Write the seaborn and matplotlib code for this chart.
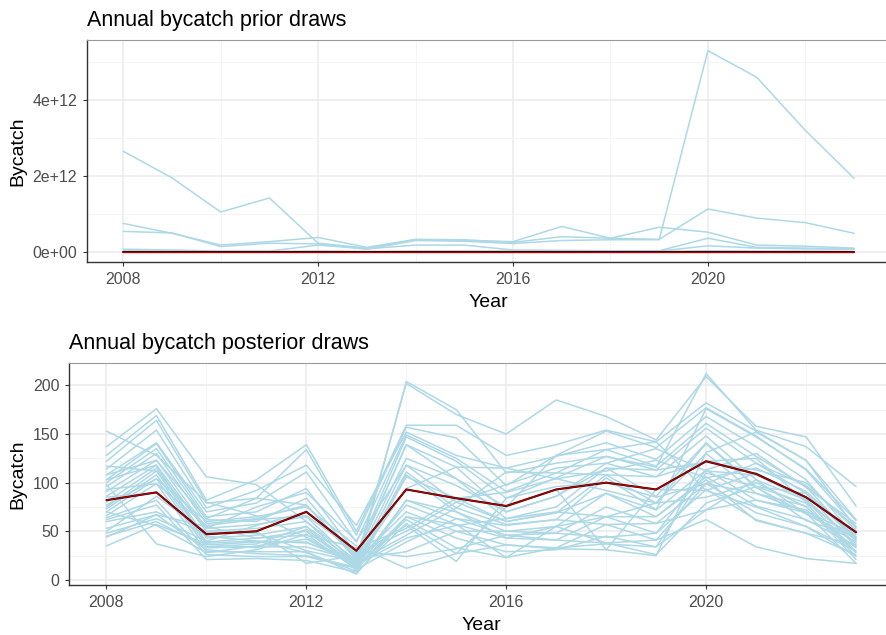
import numpy as np
import pandas as pd
import matplotlib
matplotlib.use("Agg")
import matplotlib.pyplot as plt
import seaborn as sns
from matplotlib.ticker import FixedLocator, FuncFormatter

years = list(range(2008, 2024))

# observed / posterior median line (dark red)
observed = [82, 90, 47, 50, 70, 30, 93, 84, 76, 93, 100, 93, 122, 109, 85, 49]

# prior draws, in units of 1e12
prior_draws = [
    [2.65, 1.95, 1.05, 1.42, 0.23, 0.10, 0.32, 0.30, 0.27, 0.67, 0.36, 0.65, 0.52, 0.18, 0.15, 0.10],
    [0.75, 0.49, 0.18, 0.27, 0.38, 0.12, 0.33, 0.32, 0.25, 0.40, 0.36, 0.33, 1.13, 0.89, 0.77, 0.49],
    [0.54, 0.50, 0.14, 0.23, 0.21, 0.07, 0.30, 0.28, 0.22, 0.30, 0.32, 0.32, 5.30, 4.60, 3.20, 1.94],
    [0.07, 0.05, 0.02, 0.02, 0.18, 0.08, 0.18, 0.18, 0.05, 0.04, 0.03, 0.03, 0.36, 0.12, 0.10, 0.08],
    [0.02, 0.01, 0.01, 0.01, 0.02, 0.01, 0.02, 0.02, 0.02, 0.02, 0.02, 0.02, 0.16, 0.10, 0.08, 0.07],
    [0.01, 0.01, 0.00, 0.00, 0.01, 0.00, 0.01, 0.01, 0.01, 0.01, 0.01, 0.01, 0.03, 0.02, 0.02, 0.01],
]

# posterior draws
posterior_draws = [
    [153, 128, 80, 66, 44, 14, 204, 175, 110, 120, 127, 116, 212, 154, 137, 96],
    [137, 176, 106, 98, 60, 20, 202, 170, 150, 185, 168, 144, 209, 158, 147, 76],
    [128, 169, 82, 103, 139, 50, 159, 159, 128, 139, 154, 142, 182, 153, 123, 62],
    [122, 164, 79, 84, 134, 46, 157, 146, 97, 128, 153, 136, 177, 148, 113, 55],
    [114, 154, 74, 92, 118, 56, 152, 128, 115, 127, 141, 124, 168, 137, 103, 44],
    [108, 141, 70, 79, 111, 39, 149, 125, 91, 110, 134, 117, 161, 127, 96, 40],
    [103, 140, 65, 70, 94, 27, 147, 122, 84, 105, 127, 113, 156, 120, 89, 34],
    [100, 135, 62, 60, 84, 24, 139, 116, 70, 86, 120, 106, 148, 103, 82, 29],
    [96, 130, 58, 63, 77, 21, 125, 104, 63, 75, 115, 86, 141, 96, 79, 24],
    [91, 123, 53, 57, 65, 17, 118, 80, 60, 69, 108, 79, 130, 89, 76, 21],
    [86, 118, 50, 53, 60, 14, 111, 74, 57, 62, 105, 72, 113, 82, 69, 17],
    [80, 115, 43, 46, 55, 10, 108, 70, 50, 55, 89, 65, 106, 76, 62, 35],
    [75, 112, 39, 43, 50, 13, 82, 63, 46, 48, 75, 58, 99, 69, 55, 30],
    [73, 108, 36, 39, 39, 17, 77, 57, 43, 41, 65, 48, 93, 62, 48, 26],
    [70, 104, 33, 34, 34, 20, 70, 50, 36, 33, 57, 41, 62, 34, 22, 17],
    [66, 99, 29, 29, 29, 6, 65, 43, 29, 31, 45, 34, 72, 103, 68, 39],
    [64, 82, 26, 24, 24, 12, 62, 33, 23, 55, 38, 26, 79, 96, 61, 45],
    [62, 77, 21, 22, 20, 8, 58, 27, 75, 93, 31, 93, 92, 110, 85, 50],
    [60, 70, 47, 50, 17, 25, 56, 19, 84, 96, 100, 85, 99, 120, 97, 54],
    [53, 67, 55, 43, 46, 33, 53, 84, 90, 104, 112, 123, 105, 115, 91, 44],
    [48, 63, 40, 56, 70, 26, 50, 80, 98, 115, 120, 135, 112, 108, 83, 37],
    [45, 60, 34, 37, 55, 18, 46, 74, 111, 110, 108, 106, 122, 125, 80, 41],
    [35, 57, 37, 33, 52, 15, 43, 56, 63, 70, 65, 79, 85, 100, 75, 28],
    [98, 37, 24, 31, 47, 11, 39, 63, 56, 62, 57, 58, 72, 82, 72, 33],
    [85, 90, 45, 40, 38, 22, 29, 50, 50, 48, 44, 48, 113, 130, 95, 58],
    [93, 99, 56, 62, 66, 30, 24, 32, 46, 41, 38, 41, 99, 89, 70, 47],
    [77, 104, 60, 65, 75, 35, 12, 27, 36, 32, 31, 25, 131, 152, 123, 53],
    [50, 86, 49, 48, 30, 19, 94, 116, 115, 104, 92, 79, 140, 95, 68, 43],
    [70, 56, 28, 35, 42, 16, 106, 84, 60, 69, 89, 72, 176, 147, 114, 61],
    [103, 118, 38, 40, 28, 9, 82, 70, 43, 55, 65, 65, 103, 61, 48, 36],
    [44, 67, 31, 27, 25, 13, 65, 57, 23, 33, 37, 34, 110, 96, 89, 42],
    [117, 112, 53, 75, 90, 40, 118, 97, 70, 86, 115, 113, 121, 113, 100, 51],
    [108, 123, 63, 84, 77, 23, 139, 104, 75, 128, 134, 142, 92, 75, 55, 24],
]


def to_long(draws, scale=1.0):
    rows = []
    for i, d in enumerate(draws):
        for y, v in zip(years, d):
            rows.append({"draw": i, "Year": y, "Bycatch": v * scale})
    return pd.DataFrame(rows)


prior_df = to_long(prior_draws, 1e12)
post_df = to_long(posterior_draws)
obs_df = pd.DataFrame({"Year": years, "Bycatch": observed})

sns.set_style("white")
plt.rcParams["font.family"] = ["Liberation Sans", "DejaVu Sans"]

fig = plt.figure(figsize=(8.86, 6.35), dpi=100)
W, H = 886, 635


def px_axes(left, top, right, bottom):
    return fig.add_axes([left / W, 1 - bottom / H, (right - left) / W, (bottom - top) / H])


ax1 = px_axes(86.7, 40, 890.6, 262)
ax2 = px_axes(69, 363, 893.5, 585)


def style(ax, title, ymajor, yminor, ylim, fmt, ylab_x):
    ax.set_xlim(2008 - 0.75, 2023 + 0.75)
    ax.set_ylim(*ylim)
    ax.xaxis.set_major_locator(FixedLocator([2008, 2012, 2016, 2020]))
    ax.xaxis.set_minor_locator(FixedLocator([2010, 2014, 2018, 2022]))
    ax.yaxis.set_major_locator(FixedLocator(ymajor))
    ax.yaxis.set_minor_locator(FixedLocator(yminor))
    ax.yaxis.set_major_formatter(FuncFormatter(fmt))
    ax.grid(which="major", color="#EBEBEB", lw=1.1)
    ax.grid(which="minor", color="#F4F4F4", lw=0.7)
    ax.set_axisbelow(True)
    for s in ["left", "bottom"]:
        ax.spines[s].set_color("#333333")
        ax.spines[s].set_linewidth(1.0)
    for s in ["top", "right"]:
        ax.spines[s].set_color("#999999")
        ax.spines[s].set_linewidth(0.8)
    ax.tick_params(which="major", length=3, width=0.8, color="#333333",
                   labelsize=11.5, labelcolor="#4D4D4D", pad=4, left=True, bottom=True)
    ax.tick_params(which="minor", length=0)
    ax.set_xlabel("Year", fontsize=14, color="black", labelpad=5)
    ax.set_ylabel("Bycatch", fontsize=14, color="black")
    ax.yaxis.set_label_coords(ylab_x, 0.5)
    ax.set_title(title, loc="left", fontsize=15.5, color="black", pad=10)


def draw(ax, df):
    sns.lineplot(data=df, x="Year", y="Bycatch", units="draw", estimator=None,
                 color="#ADD8E6", lw=1.1, ax=ax, legend=False)
    sns.lineplot(data=obs_df, x="Year", y="Bycatch", color="#3a0000", lw=1.5, ax=ax)
    sns.lineplot(data=obs_df, x="Year", y="Bycatch", color="#B00000", lw=0.9, ax=ax)


draw(ax1, prior_df)
draw(ax2, post_df)

style(ax1, "Annual bycatch prior draws", [0, 2e12, 4e12], [1e12, 3e12, 5e12],
      (-0.266e12, 5.58e12), lambda v, p: f"{v:.0e}", (26 - 86.7) / (890.6 - 86.7))
style(ax2, "Annual bycatch posterior draws", [0, 50, 100, 150, 200], [25, 75, 125, 175],
      (-5.2, 223), lambda v, p: f"{v:.0f}", (26 - 69) / (893.5 - 69))

fig.savefig("out.png", dpi=100)
